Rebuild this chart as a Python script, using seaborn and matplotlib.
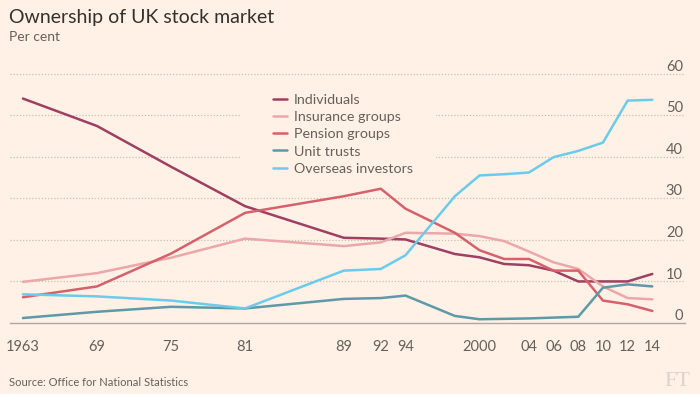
import pandas as pd
import matplotlib.pyplot as plt
import seaborn as sns
from matplotlib.transforms import ScaledTranslation
from matplotlib.patches import Rectangle

# Data (per cent of UK quoted shares)
years = [1963, 1969, 1975, 1981, 1989, 1992, 1994, 1998, 2000, 2002,
         2004, 2006, 2008, 2010, 2012, 2014]
individuals = [54.0, 47.4, 37.6, 28.1, 20.5, 20.3, 20.1, 16.6, 15.8, 14.2,
               13.9, 12.6, 10.0, 10.0, 10.0, 11.8]
insurance = [9.9, 12.0, 15.7, 20.3, 18.5, 19.4, 21.7, 21.5, 20.9, 19.7,
             17.2, 14.6, 13.0, 8.8, 6.0, 5.7]
pension = [6.2, 8.8, 16.7, 26.5, 30.5, 32.3, 27.5, 21.7, 17.5, 15.4,
           15.4, 12.6, 12.6, 5.4, 4.5, 2.9]
unit_trusts = [1.2, 2.7, 3.9, 3.5, 5.8, 6.0, 6.6, 1.7, 0.9, 1.0,
               1.1, 1.3, 1.5, 8.5, 9.3, 8.8]
overseas = [6.9, 6.4, 5.4, 3.5, 12.6, 13.0, 16.3, 30.5, 35.5, 35.8,
            36.2, 39.9, 41.4, 43.4, 53.5, 53.7]

series_names = ["Individuals", "Insurance groups", "Pension groups",
                "Unit trusts", "Overseas investors"]
series_values = [individuals, insurance, pension, unit_trusts, overseas]
colors = ["#9e3f63", "#eba7aa", "#d6616c", "#5f98a6", "#6ccbea"]

tick_years = [1963, 1969, 1975, 1981, 1989, 1992, 1994, 1998, 2000, 2002,
              2004, 2006, 2008, 2010, 2012, 2014]
tick_labels = ["1963", "69", "75", "81", "89", "92", "94", "", "2000", "",
               "04", "06", "08", "10", "12", "14"]
y_ticks = [0, 10, 20, 30, 40, 50, 60]

rows = []
for name, vals in zip(series_names, series_values):
    for yr, v in zip(years, vals):
        rows.append({"year": yr, "share": v, "holder": name})
df = pd.DataFrame(rows)

bg = "#fff1e5"
text_dark = "#33302e"
text_grey = "#66605c"

sns.set_style("white", {"axes.facecolor": bg, "figure.facecolor": bg})
plt.rcParams["font.family"] = ["Lato", "DejaVu Sans"]

fig = plt.figure(figsize=(7, 3.94), dpi=100)
ax = fig.add_axes([10 / 700, 71 / 394, 675 / 700, 257.7 / 394])

sns.lineplot(data=df, x="year", y="share", hue="holder",
             hue_order=series_names, palette=colors, linewidth=1.8,
             ax=ax, zorder=3)

ax.set_xlim(1961.95, 2016.65)
ax.set_ylim(0, 62)

# dotted gridlines
for v in y_ticks[1:]:
    ax.axhline(v, color="#c9bfb5", lw=0.9, ls=(0, (1, 1.5)), zorder=1)
# gap in gridlines behind the legend
ax.add_patch(Rectangle((1980.6, 35), 15.9, 22, facecolor=bg,
                       edgecolor="none", zorder=2))

for s in ["top", "left", "right"]:
    ax.spines[s].set_visible(False)
ax.spines["bottom"].set_color("#b0a79e")
ax.spines["bottom"].set_linewidth(1.0)

ax.set_xticks(tick_years)
ax.set_xticklabels(tick_labels)
ax.tick_params(axis="x", length=6.5, width=0.8, color="#b0a79e",
               labelsize=10.5, labelcolor=text_grey, pad=5.5)

ax.yaxis.tick_right()
ax.set_yticks(y_ticks)
ax.set_yticklabels([str(v) for v in y_ticks])
ax.tick_params(axis="y", length=0, labelsize=10.5, labelcolor=text_grey,
               pad=-1.5)
offset = ScaledTranslation(0, 6 / 72, fig.dpi_scale_trans)
for lab in ax.get_yticklabels():
    lab.set_horizontalalignment("right")
    lab.set_transform(lab.get_transform() + offset)

ax.set_xlabel("")
ax.set_ylabel("")

handles, labels = ax.get_legend_handles_labels()
ax.legend(handles, labels, loc="upper left",
          bbox_to_anchor=(273 / 700, 1 - 94 / 394),
          bbox_transform=fig.transFigure, frameon=False, fontsize=10.3,
          labelcolor=text_grey, handlelength=1.0, handletextpad=0.45,
          labelspacing=0.36, borderpad=0, borderaxespad=0)

fig.text(9 / 700, 1 - 17 / 394, "Ownership of UK stock market",
         fontsize=14, color=text_dark, va="center")
fig.text(9 / 700, 1 - 37 / 394, "Per cent", fontsize=10,
         color=text_grey, va="center")
fig.text(9 / 700, 1 - 383 / 394, "Source: Office for National Statistics",
         fontsize=8, color=text_grey, va="center")
fig.text(690 / 700, 1 - 382 / 394, "FT", fontsize=16, color="#ddd3c9",
         family="Liberation Serif", ha="right", va="center")

fig.savefig("out.png", dpi=100, facecolor=bg)
